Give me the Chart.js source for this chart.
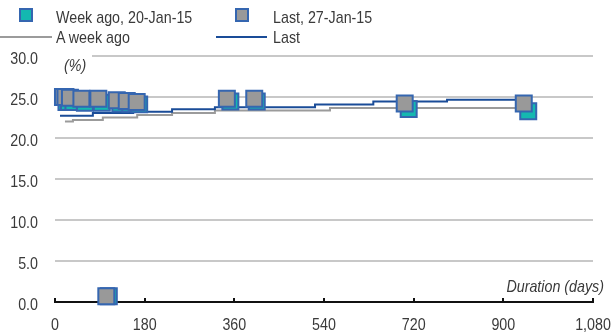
<!DOCTYPE html>
<html>
<head>
<meta charset="utf-8">
<script src="https://cdn.jsdelivr.net/npm/chart.js@4/dist/chart.umd.min.js"></script>
<style>
  html, body { margin: 0; padding: 0; background: #fff; }
  #wrap { position: relative; width: 611px; height: 335px; }
  canvas { position: absolute; left: 0; top: 0; }
  .lg { position: absolute; font-family: 'Liberation Sans', Arial, sans-serif;
        font-size: 17px; color: #3a3a3a; line-height: 20px; white-space: nowrap;
        transform: scaleX(0.84); transform-origin: 0 0; }
  .sq { position: absolute; width: 10px; height: 10px; border: 2px solid #3566b0; }
  .ln { position: absolute; height: 2px; }
</style>
</head>
<body>
<div id="wrap">
  <canvas id="c" width="611" height="335"></canvas>
  <div class="sq" style="left:19px; top:8px; background:#14b8b0;"></div>
  <div class="lg" style="left:56px; top:8px;">Week ago, 20-Jan-15</div>
  <div class="sq" style="left:235px; top:8px; background:#999;"></div>
  <div class="lg" style="left:273px; top:8px;">Last, 27-Jan-15</div>
  <div class="ln" style="left:0px; top:36px; width:52px; background:#9b9b9b;"></div>
  <div class="lg" style="left:56px; top:28px;">A week ago</div>
  <div class="ln" style="left:216px; top:36px; width:51px; background:#1a4c98;"></div>
  <div class="lg" style="left:273px; top:28px;">Last</div>
</div>
<script>
// Bond yields by residual maturity
const lastDays    = [16, 21, 30, 53, 87, 103, 124, 144, 164, 345, 400, 702, 941];
const lastYields  = [25.0, 25.0, 24.9, 24.8, 24.8, 0.7, 24.6, 24.5, 24.4, 24.8, 24.8, 24.2, 24.2];
const weekDays    = [23, 28, 37, 60, 94, 108, 131, 151, 169, 352, 405, 710, 950];
const weekYields  = [24.4, 24.4, 24.4, 24.3, 24.3, 0.7, 24.2, 24.2, 24.1, 24.45, 24.45, 23.55, 23.25];

// Fitted curves (step levels start at each day)
const lastCurveDays   = [10, 76, 157, 235, 321, 522, 639, 787, 940];
const lastCurveYields = [22.7, 23.05, 23.2, 23.5, 23.75, 24.1, 24.45, 24.65, 24.65];
const weekCurveDays   = [20, 36, 96, 165, 235, 321, 552, 950];
const weekCurveYields = [22.0, 22.2, 22.5, 22.8, 23.05, 23.35, 23.65, 23.65];

// Axis ticks
const xTicks = [0, 180, 360, 540, 720, 900, 1080];
const yTicks = [0, 5, 10, 15, 20, 25, 30];

const FONT = "'Liberation Sans', Arial, sans-serif";
const SQUEEZE = 0.84;   // narrow-face look for all chart text
const TEXT = '#3a3a3a';
const pts = (xs, ys) => xs.map((x, i) => ({ x, y: ys[i] }));

function narrowText(ctx, str, x, y, align, italic) {
  ctx.save();
  ctx.translate(x, y);
  ctx.scale(SQUEEZE, 1);
  ctx.font = (italic ? 'italic ' : '') + '17px ' + FONT;
  ctx.fillStyle = TEXT;
  ctx.textAlign = align;
  ctx.textBaseline = 'middle';
  ctx.fillText(str, 0, 0);
  ctx.restore();
}

const axisDecor = {
  id: 'axisDecor',
  beforeDatasetsDraw(chart) {
    const { ctx, chartArea: a, scales: { x, y } } = chart;
    ctx.save();
    // clear the top gridline behind the unit label
    ctx.fillStyle = '#fff';
    ctx.fillRect(a.left, y.getPixelForValue(30) - 4, 37, 8);
    // x axis line with upward tick marks
    const y0 = y.getPixelForValue(0);
    ctx.strokeStyle = '#111';
    ctx.lineWidth = 2;
    ctx.beginPath();
    ctx.moveTo(a.left, y0);
    ctx.lineTo(a.right, y0);
    xTicks.forEach(t => {
      const px = Math.round(x.getPixelForValue(t));
      ctx.moveTo(px, y0 - 4);
      ctx.lineTo(px, y0 + 1);
    });
    ctx.stroke();
    ctx.restore();
  },
  afterDraw(chart) {
    const { ctx, scales: { x, y } } = chart;
    const y0 = y.getPixelForValue(0);
    yTicks.forEach(v => narrowText(ctx, v.toFixed(1), 38, y.getPixelForValue(v) + 3.5, 'right'));
    xTicks.forEach(v => narrowText(ctx, v.toLocaleString('en-US'), x.getPixelForValue(v), 325, 'center'));
    narrowText(ctx, '(%)', 64, y.getPixelForValue(30) + 10, 'left', true);
    narrowText(ctx, 'Duration (days)', 604, y0 - 15, 'right', true);
  }
};

new Chart(document.getElementById('c'), {
  type: 'scatter',
  data: {
    datasets: [
      {
        label: 'Last, 27-Jan-15',
        data: pts(lastDays, lastYields),
        pointStyle: 'rect', pointRadius: 11.3, pointHoverRadius: 11.3,
        backgroundColor: '#999999', borderColor: '#3566b0', borderWidth: 2,
        order: 0, clip: false
      },
      {
        label: 'Week ago, 20-Jan-15',
        data: pts(weekDays, weekYields),
        pointStyle: 'rect', pointRadius: 11.3, pointHoverRadius: 11.3,
        backgroundColor: '#14b8b0', borderColor: '#3566b0', borderWidth: 2,
        order: 1, clip: false
      },
      {
        type: 'line',
        label: 'Last',
        data: pts(lastCurveDays, lastCurveYields),
        stepped: true, borderColor: '#1a4c98', borderWidth: 2,
        pointRadius: 0, fill: false, order: 2
      },
      {
        type: 'line',
        label: 'A week ago',
        data: pts(weekCurveDays, weekCurveYields),
        stepped: true, borderColor: '#9b9b9b', borderWidth: 2,
        pointRadius: 0, fill: false, order: 3
      }
    ]
  },
  options: {
    responsive: false,
    animation: false,
    layout: { padding: { top: 56, right: 18, left: 0, bottom: 0 } },
    plugins: { legend: { display: false }, tooltip: { enabled: false } },
    scales: {
      x: {
        type: 'linear', min: 0, max: 1080,
        afterBuildTicks(s) { s.ticks = xTicks.map(v => ({ value: v })); },
        ticks: { display: false },
        grid: { display: false, drawTicks: false },
        border: { display: false },
        afterFit(s) { s.height = 33; }
      },
      y: {
        min: 0, max: 30,
        afterBuildTicks(s) { s.ticks = yTicks.map(v => ({ value: v })); },
        ticks: { display: false },
        grid: {
          color: c => (c.tick && c.tick.value === 0) ? 'rgba(0,0,0,0)' : '#c8c8c8',
          lineWidth: 2, drawTicks: false
        },
        border: { display: false },
        afterFit(s) { s.width = 55; }
      }
    }
  },
  plugins: [axisDecor]
});
</script>
</body>
</html>
